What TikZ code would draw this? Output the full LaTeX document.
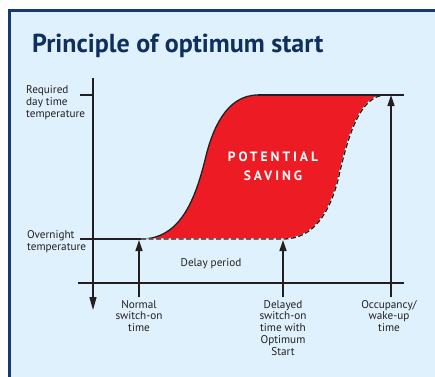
\documentclass[tikz,border=0pt]{standalone}
\usepackage{fontspec}
\setmainfont{PT Sans}
\usetikzlibrary{arrows.meta}
\definecolor{bgblue}{HTML}{DFF1FC}
\definecolor{navy}{HTML}{153A6B}
\definecolor{titleblue}{HTML}{0F2F5F}
\definecolor{savred}{HTML}{ED1C24}
\definecolor{ink}{HTML}{231F20}
\tikzset{
  axis/.style={draw=ink, line width=1.4pt},
  uparrow/.style={draw=ink, line width=1.4pt, -{Triangle[width=7pt,length=11pt]}},
  lbl/.style={font=\fontsize{11.2}{11.8}\selectfont, text=ink, inner sep=0pt},
  botlbl/.style={lbl, align=center, anchor=north},
  leftlbl/.style={lbl, align=left, anchor=west},
}
\begin{document}
\begin{tikzpicture}[x=1pt,y=-1pt]
\useasboundingbox (0,0) rectangle (435,376);
\fill[white] (0,0) rectangle (435,376);
\filldraw[fill=bgblue, draw=navy, line width=2.6pt] (9.5,10.5) rectangle (460,400);
\node[anchor=base west, inner sep=0pt, text=titleblue, font=\fontsize{26}{30}\selectfont\bfseries] (title) at (32,52) {Principle of optimum start};

% key coordinates
\coordinate (ntop) at (93,95);
\coordinate (nlow) at (93,239);
\coordinate (s1) at (141,239);
\coordinate (s2) at (258,95);
\coordinate (d1) at (283,239);
\coordinate (d2) at (386,95);
\coordinate (topend) at (404,95);
\coordinate (axtop) at (93,78);
\coordinate (axbot) at (93,310);
\coordinate (hx1) at (78,283);
\coordinate (hx2) at (404,283);
\coordinate (tickR) at (80,95);
\coordinate (tickN) at (80,239);
\coordinate (a1) at (139,297);
\coordinate (a1t) at (139,240);
\coordinate (a2) at (283,297);
\coordinate (a2t) at (283,240);
\coordinate (a3) at (391,297);
\coordinate (a3t) at (391,95);

% red region
\fill[savred] (s1) .. controls (180,239) and (195,200) .. (205,160)
  .. controls (212,130) and (226,95) .. (s2) -- (d2)
  .. controls (360,95) and (348,135) .. (338,180)
  .. controls (330,210) and (315,239) .. (d1) -- cycle;
% solid rising curve
\draw[ink, line width=1.3pt] (s1) .. controls (180,239) and (195,200) .. (205,160)
  .. controls (212,130) and (226,95) .. (s2);
% dashed curve
\draw[white, line width=1.3pt] (s1) -- (d1) .. controls (315,239) and (330,210) .. (338,180)
  .. controls (348,135) and (360,95) .. (d2);
\draw[ink, line width=1.3pt, dash pattern=on 5pt off 2.5pt] (s1) -- (d1) .. controls (315,239) and (330,210) .. (338,180)
  .. controls (348,135) and (360,95) .. (d2);

% axes and lines
\draw[axis] (tickR) -- (ntop);
\draw[axis] (tickN) -- (s1);
\draw[axis] (s2) -- (topend);
\draw[axis] (hx1) -- (hx2);
\draw[axis, -{Triangle[width=7pt,length=13pt]}] (axtop) -- (axbot);

\draw[uparrow] (a1) -- (a1t);
\draw[uparrow] (a2) -- (a2t);
\draw[uparrow] (a3) -- (a3t);

% labels
\node[leftlbl] (lreq) at (26,102.5) {Required\\day time\\temperature};
\node[leftlbl] (lnight) at (27,242) {Overnight\\temperature};
\node[lbl] (ldelay) at (211,264) {Delay period};
\node[botlbl] (lnormal) at (139,300) {Normal\\switch-on\\time};
\node[botlbl] (ldelayed) at (283,300) {Delayed\\switch-on\\time with\\Optimum\\Start};
\node[botlbl] (locc) at (389,300) {Occupancy/\\wake-up\\time};

\node[inner sep=0pt, text=white, align=center, font=\fontsize{13.5}{19}\selectfont\bfseries\addfontfeature{LetterSpace=22}] (saving) at (273,166) {POTENTIAL\\SAVING};
\end{tikzpicture}
\end{document}
